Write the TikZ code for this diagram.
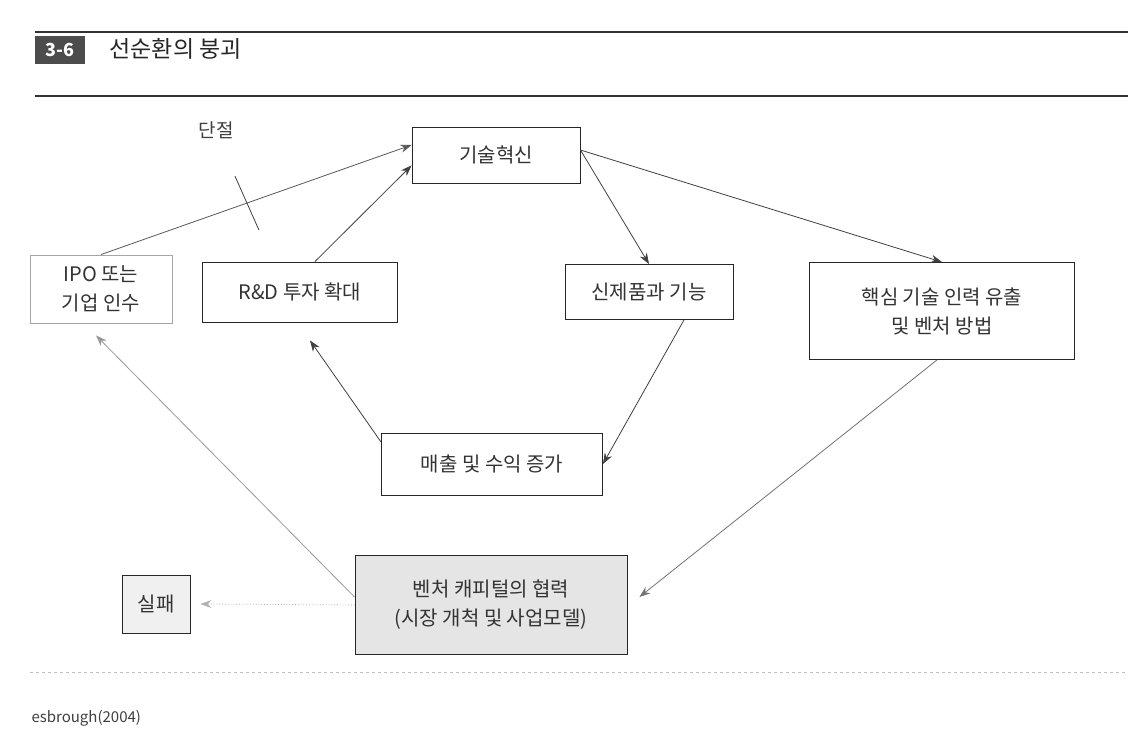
\documentclass[tikz,border=0pt]{standalone}
\usepackage{fontspec}
\setmainfont{Noto Sans CJK KR}
\usetikzlibrary{arrows.meta,calc}
\begin{document}
\begin{tikzpicture}[x=1pt,y=-1pt,
  box/.style={draw=black!85,line width=0.9pt,fill=white,inner sep=0pt,font=\fontsize{20}{25}\selectfont,align=center,text=black!80},
  arr/.style={-{Stealth[length=11pt,width=8pt]},line width=0.8pt,draw=black!75}]
\useasboundingbox (0,0) rectangle (1128,738);
\fill[white] (0,0) rectangle (1128,738);
% header
\draw[line width=1.2pt,black!80] (35,32) -- (1128,32);
\draw[line width=1.2pt,black!80] (35,96) -- (1128,96);
\node[fill=black!70,minimum width=50pt,minimum height=28pt,inner sep=0pt,text=white,font=\fontsize{18}{20}\selectfont\bfseries] (badge) at (60,50) {3-6};
\node[anchor=west,font=\fontsize{23}{26}\selectfont,text=black!85] (title) at (106,49) {선순환의 붕괴};
% nodes
\node[box,minimum width=168pt,minimum height=56pt] (tech) at (496,155) {기술혁신};
\node[box,minimum width=195pt,minimum height=60pt] (rd) at (300,292) {R\&D 투자 확대};
\node[box,minimum width=168pt,minimum height=55pt] (newp) at (649,292) {신제품과 기능};
\node[box,minimum width=265pt,minimum height=97pt] (core) at (942,311) {핵심 기술 인력 유출\\[4pt]및 벤처 방법};
\node[box,draw=black!35,minimum width=142pt,minimum height=68pt] (ipo) at (101,289) {IPO 또는\\[4pt]기업 인수};
\node[box,minimum width=221pt,minimum height=62pt] (sales) at (492,464) {매출 및 수익 증가};
\node[box,fill=black!10,minimum width=272pt,minimum height=99pt] (vc) at (491,605) {벤처 캐피털의 협력\\[4pt](시장 개척 및 사업모델)};
\node[box,fill=black!6,minimum width=68pt,minimum height=58pt] (fail) at (156,604) {실패};
\node[anchor=west,font=\fontsize{15}{18}\selectfont,text=black!75] (src) at (28,718) {esbrough(2004)};
\draw[black!25,line width=0.6pt,dashed] (30,672) -- (1128,672);
% arrows
\coordinate (ipotop) at ($(ipo.north)+(0,0)$);
\coordinate (techw) at ($(tech.west)+(0,-10)$);
\draw[arr,draw=black!65] (ipotop) -- (techw) coordinate[pos=0.47] (cut);
\draw[line width=0.8pt,black!75] ($(cut)+(-12,-27)$) -- ($(cut)+(12,27)$);
\node[font=\fontsize{19}{22}\selectfont,text=black!75] (dan) at (216,130) {단절};
\coordinate (rdn) at ($(rd.north)+(15,0)$);
\coordinate (techsw) at ($(tech.south west)+(0,-18)$);
\draw[arr] (rdn) -- (techsw);
\coordinate (teche) at ($(tech.east)+(0,-5)$);
\draw[arr] (teche) -- (newp.north);
\draw[arr] (teche) -- (core.north);
\coordinate (newps) at ($(newp.south)+(35,0)$);
\draw[arr] (newps) -- (sales.east);
\coordinate (salesw) at ($(sales.west)+(0,-22)$);
\coordinate (rds) at ($(rd.south)+(10,18)$);
\draw[arr] (salesw) -- (rds);
\coordinate (cores) at ($(core.south)+(-5,0)$);
\coordinate (vce) at ($(vc.east)+(12,-8)$);
\draw[arr,draw=black!55] (cores) -- (vce);
\coordinate (vcw) at ($(vc.west)+(0,-8)$);
\coordinate (ipos) at ($(ipo.south)+(-5,12)$);
\draw[arr,draw=black!40] (vcw) -- (ipos);
\coordinate (faile) at ($(fail.east)+(10,0)$);
\draw[arr,draw=black!30,dotted] (vc.west) -- (faile);
\end{tikzpicture}
\end{document}
